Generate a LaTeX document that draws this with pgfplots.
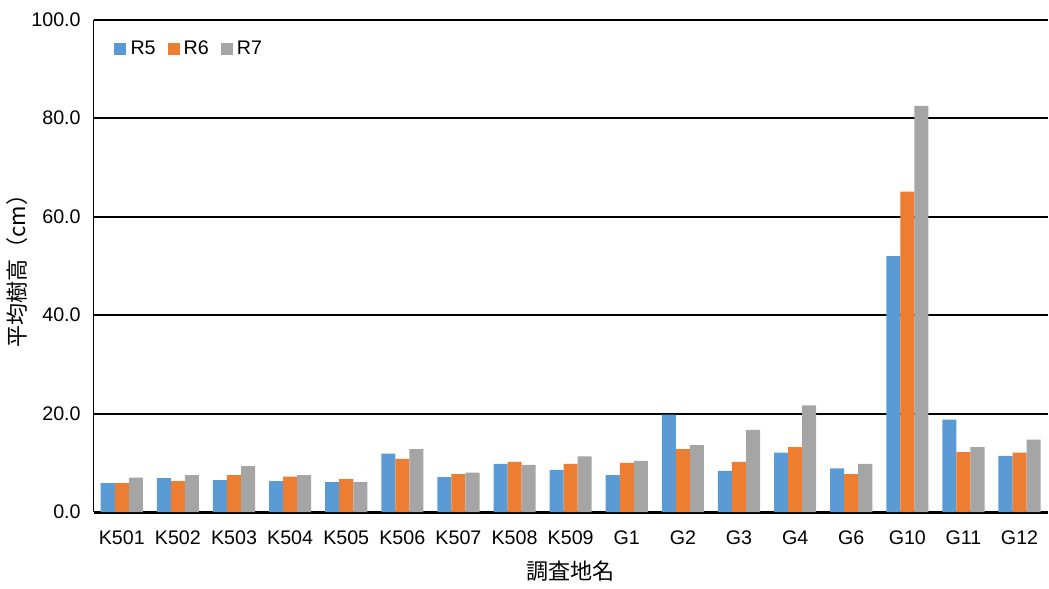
\documentclass[border=0pt]{standalone}
\usepackage{pgfplots}
\pgfplotsset{compat=1.18}
\usepackage{fontspec}
\setmainfont{Liberation Sans}
\newfontfamily\cjk{Noto Sans CJK JP}
\definecolor{cR5}{HTML}{5B9BD5}
\definecolor{cR6}{HTML}{ED7D31}
\definecolor{cR7}{HTML}{A5A5A5}
\begin{document}
\begin{tikzpicture}
  \begin{axis}[
    scale only axis,
    width=475.5pt, height=245.5pt,
    ybar=0pt, bar width=7pt,
    xmin=-0.5, xmax=16.5,
    ymin=0, ymax=100,
    xtick=data,
    xticklabels={K501,K502,K503,K504,K505,K506,K507,K508,K509,G1,G2,G3,G4,G6,G10,G11,G12},
    ytick={0,20,40,60,80,100},
    ticklabel style={font=\fontsize{9.8}{11}\selectfont},
    xticklabel style={yshift=-6pt},
    yticklabel style={xshift=-3pt, /pgf/number format/.cd, fixed, fixed zerofill, precision=1, assume math mode=true},
    major tick length=0pt,
    xtick style={draw=none}, ytick style={draw=none},
    axis x line=bottom, axis y line=left,
    axis line style={-},
    x axis line style={line width=1.4pt},
    y axis line style={line width=0.6pt},
    ymajorgrids,
    grid style={black, line width=1pt},
    xlabel={\cjk 調査地名},
    ylabel={\cjk 平均樹高（cm）},
    label style={font=\fontsize{11}{13}\selectfont},
    xlabel style={yshift=-1pt},
    ylabel style={yshift=-5pt},
    legend style={at={(0.015,0.975)}, anchor=north west, draw=none, fill=none,
      font=\fontsize{9.8}{11}\selectfont, legend columns=3,
      /tikz/every even column/.append style={column sep=4pt}},
    legend image code/.code={\fill[#1] (0pt,-3pt) rectangle (6pt,3pt);},
  ]
    \addplot[fill=cR5, draw=none] coordinates {
      (0,5.9) (1,6.9) (2,6.5) (3,6.3) (4,6.1) (5,11.9) (6,7.1) (7,9.8) (8,8.6)
      (9,7.5) (10,19.8) (11,8.4) (12,12.1) (13,8.9) (14,52.0) (15,18.8) (16,11.4)};
    \addplot[fill=cR6, draw=none] coordinates {
      (0,5.9) (1,6.3) (2,7.5) (3,7.2) (4,6.7) (5,10.8) (6,7.7) (7,10.2) (8,9.8)
      (9,10.0) (10,12.8) (11,10.2) (12,13.2) (13,7.7) (14,65.1) (15,12.2) (16,12.1)};
    \addplot[fill=cR7, draw=none] coordinates {
      (0,7.0) (1,7.5) (2,9.35) (3,7.5) (4,6.1) (5,12.8) (6,8.0) (7,9.6) (8,11.3)
      (9,10.4) (10,13.6) (11,16.7) (12,21.7) (13,9.8) (14,82.5) (15,13.2) (16,14.7)};
    \legend{R5,R6,R7}
  \end{axis}
  % margin above the top tick label, as in the reference
  \path (current bounding box.north) ++(0,3pt);
\end{tikzpicture}
\end{document}
